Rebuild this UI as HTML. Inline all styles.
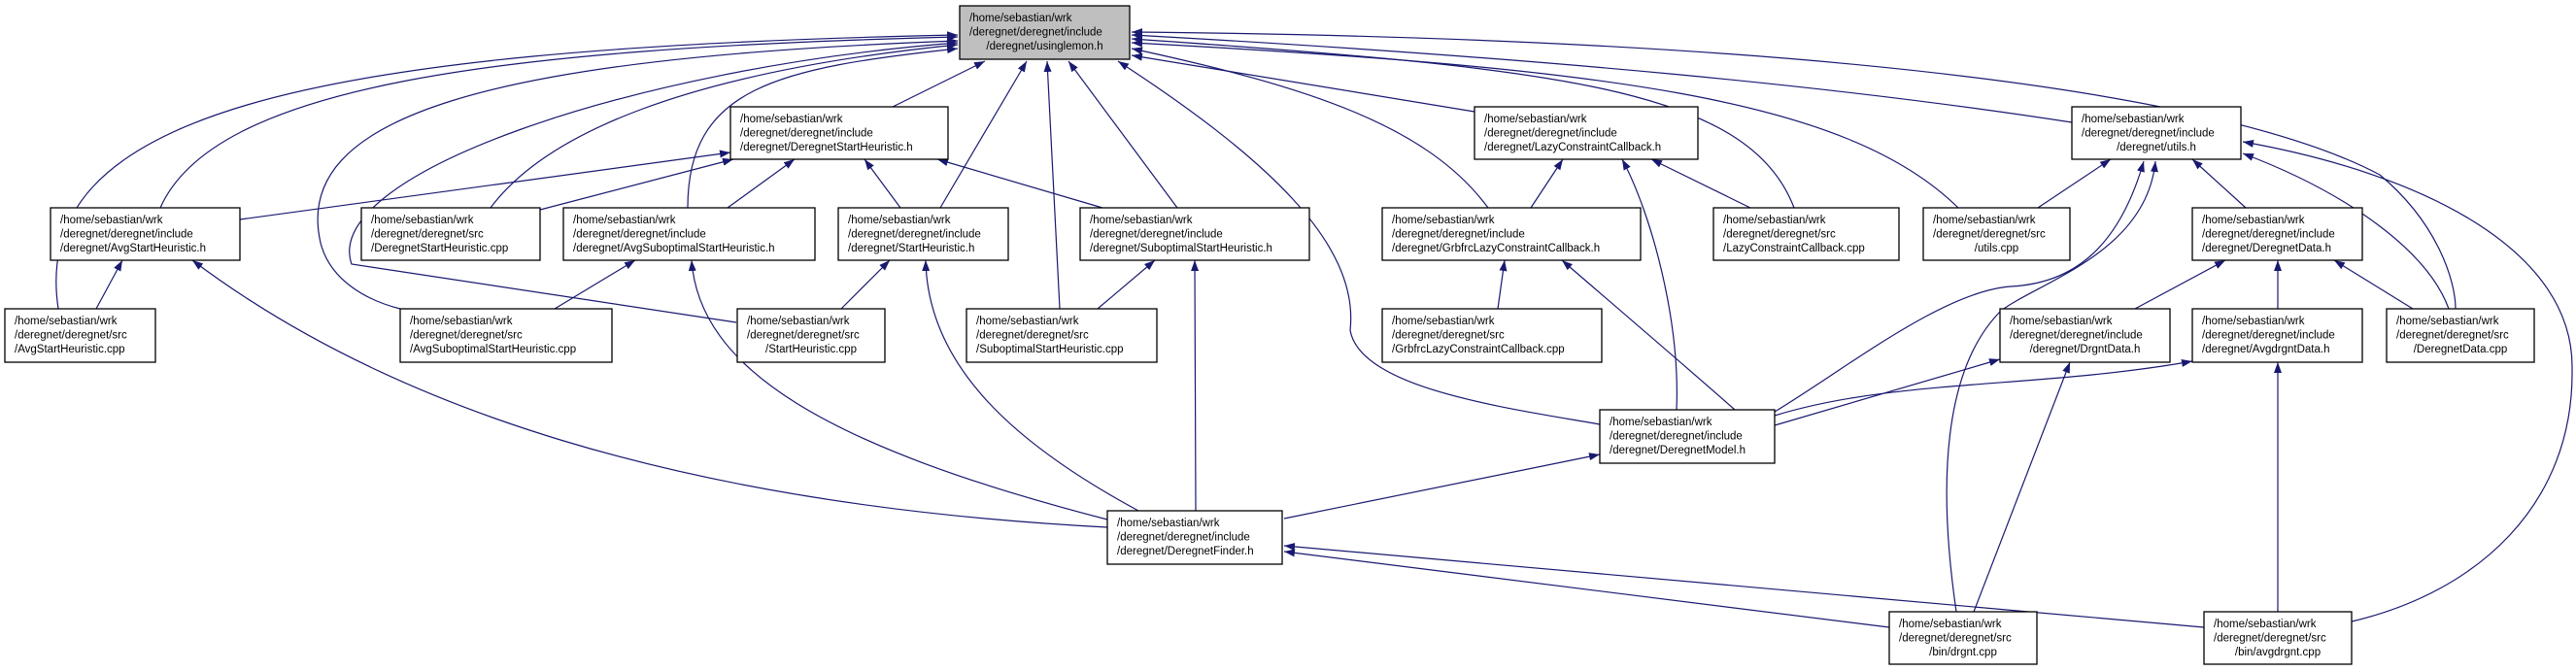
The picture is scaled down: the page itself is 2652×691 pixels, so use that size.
<!DOCTYPE html>
<html><head><meta charset="utf-8"><style>
html,body{margin:0;padding:0;background:#fff;}
svg{display:block;}
text{font-family:"Liberation Sans",sans-serif;font-size:11.5px;fill:#000;}
.e{fill:none;stroke:#191970;stroke-width:1.2;marker-start:url(#a);}
.b{fill:#fff;stroke:#000;stroke-width:1.3;}
</style></head><body>
<svg width="2652" height="691" viewBox="0 0 2652 691" xmlns="http://www.w3.org/2000/svg">
<defs><marker id="a" viewBox="0 0 11 8" refX="11" refY="4" markerWidth="11" markerHeight="8" markerUnits="userSpaceOnUse" orient="auto-start-reverse"><path d="M0,0 L11,4 L0,8 Z" fill="#191970"/></marker></defs>

<!-- root edges -->
<path class="e" d="M1014,63 L919,110"/>
<path class="e" d="M986,38 C500,50 220,90 165,214"/>
<path class="e" d="M986,36 C300,50 30,120 60,318"/>
<path class="e" d="M986,46 C700,75 560,140 505,214"/>
<path class="e" d="M986,50 C800,70 708,90 708,214"/>
<path class="e" d="M986,42 C500,60 300,120 330,250 C340,290 380,310 412,318"/>
<path class="e" d="M986,44 C650,70 330,180 362,272 L758,332"/>
<path class="e" d="M1057,63 L968,214"/>
<path class="e" d="M1078,63 L1091,318"/>
<path class="e" d="M1100,63 L1212,214"/>
<path class="e" d="M1151,63 C1300,160 1400,250 1390,340 C1400,400 1550,420 1647,437"/>
<path class="e" d="M1165,50 C1350,90 1470,130 1532,214"/>
<path class="e" d="M1165,57 L1518,115"/>
<path class="e" d="M1165,40 C1600,70 1800,90 1847,214"/>
<path class="e" d="M1165,44 C1650,70 1900,100 2016,214"/>
<path class="e" d="M1165,36 C1600,60 1900,90 2133,126"/>
<path class="e" d="M1165,33 C1900,40 2300,100 2450,180 C2510,230 2528,290 2528,318"/>
<!-- DSH.h -->
<path class="e" d="M752,157 L247,226"/>
<path class="e" d="M755,164 L556,216"/>
<path class="e" d="M818,164 L749,214"/>
<path class="e" d="M890,164 L927,214"/>
<path class="e" d="M965,164 L1135,214"/>
<!-- mid -->
<path class="e" d="M126,268 L99,318"/>
<path class="e" d="M198,268 C400,420 700,520 1140,543"/>
<path class="e" d="M654,268 L571,318"/>
<path class="e" d="M712,268 C720,380 850,460 1140,535"/>
<path class="e" d="M916,268 L866,318"/>
<path class="e" d="M953,268 C955,380 1050,460 1172,526"/>
<path class="e" d="M1189,268 L1130,318"/>
<path class="e" d="M1230,268 L1231,526"/>
<path class="e" d="M1609,164 L1576,214"/>
<path class="e" d="M1700,164 L1802,214"/>
<path class="e" d="M1670,164 C1700,220 1730,330 1726,422"/>
<path class="e" d="M1549,268 L1542,318"/>
<path class="e" d="M1608,268 C1680,330 1750,390 1786,422"/>
<!-- utils -->
<path class="e" d="M2173,164 L2098,214"/>
<path class="e" d="M2257,164 L2312,214"/>
<path class="e" d="M2207,166 C2180,260 2130,292 2070,295 C2000,300 1900,380 1827,424"/>
<path class="e" d="M2219,166 C2210,260 2100,290 2060,320 C2000,380 1995,500 2014,630"/>
<path class="e" d="M2309,158 C2420,200 2500,260 2521,318"/>
<path class="e" d="M2309,146 C2500,180 2650,260 2648,380 C2650,520 2550,610 2421,640"/>
<path class="e" d="M2291,268 L2198,318"/>
<path class="e" d="M2345,268 L2345,318"/>
<path class="e" d="M2403,268 L2484,318"/>
<path class="e" d="M2059,370 L1827,438"/>
<path class="e" d="M2131,373 L2032,630"/>
<path class="e" d="M2257,372 C2100,400 1950,390 1827,428"/>
<path class="e" d="M2345,373 L2345,630"/>
<path class="e" d="M1647,468 L1322,534"/>
<path class="e" d="M1322,562 L2269,646"/>
<path class="e" d="M1322,568 L1945,646"/>

<!-- nodes -->
<g>
<rect x="988" y="6" width="175" height="55" fill="#bfbfbf" stroke="#000" stroke-width="1.3"/>
<text x="998" y="22">/home/sebastian/wrk</text><text x="998" y="36.5">/deregnet/deregnet/include</text><text x="1075.5" y="51" text-anchor="middle">/deregnet/usinglemon.h</text>

<rect class="b" x="752" y="110" width="224" height="54"/>
<text x="762" y="126">/home/sebastian/wrk</text><text x="762" y="140.5">/deregnet/deregnet/include</text><text x="762" y="155">/deregnet/DeregnetStartHeuristic.h</text>

<rect class="b" x="1518" y="110" width="230" height="54"/>
<text x="1528" y="126">/home/sebastian/wrk</text><text x="1528" y="140.5">/deregnet/deregnet/include</text><text x="1528" y="155">/deregnet/LazyConstraintCallback.h</text>

<rect class="b" x="2133" y="110" width="174" height="54"/>
<text x="2143" y="126">/home/sebastian/wrk</text><text x="2143" y="140.5">/deregnet/deregnet/include</text><text x="2220" y="155" text-anchor="middle">/deregnet/utils.h</text>

<rect class="b" x="52" y="214" width="195" height="54"/>
<text x="62" y="230">/home/sebastian/wrk</text><text x="62" y="244.5">/deregnet/deregnet/include</text><text x="62" y="259">/deregnet/AvgStartHeuristic.h</text>

<rect class="b" x="372" y="214" width="184" height="54"/>
<text x="382" y="230">/home/sebastian/wrk</text><text x="382" y="244.5">/deregnet/deregnet/src</text><text x="382" y="259">/DeregnetStartHeuristic.cpp</text>

<rect class="b" x="580" y="214" width="259" height="54"/>
<text x="590" y="230">/home/sebastian/wrk</text><text x="590" y="244.5">/deregnet/deregnet/include</text><text x="590" y="259">/deregnet/AvgSuboptimalStartHeuristic.h</text>

<rect class="b" x="863" y="214" width="175" height="54"/>
<text x="873" y="230">/home/sebastian/wrk</text><text x="873" y="244.5">/deregnet/deregnet/include</text><text x="873" y="259">/deregnet/StartHeuristic.h</text>

<rect class="b" x="1112" y="214" width="236" height="54"/>
<text x="1122" y="230">/home/sebastian/wrk</text><text x="1122" y="244.5">/deregnet/deregnet/include</text><text x="1122" y="259">/deregnet/SuboptimalStartHeuristic.h</text>

<rect class="b" x="1423" y="214" width="266" height="54"/>
<text x="1433" y="230">/home/sebastian/wrk</text><text x="1433" y="244.5">/deregnet/deregnet/include</text><text x="1433" y="259">/deregnet/GrbfrcLazyConstraintCallback.h</text>

<rect class="b" x="1764" y="214" width="191" height="54"/>
<text x="1774" y="230">/home/sebastian/wrk</text><text x="1774" y="244.5">/deregnet/deregnet/src</text><text x="1774" y="259">/LazyConstraintCallback.cpp</text>

<rect class="b" x="1980" y="214" width="151" height="54"/>
<text x="1990" y="230">/home/sebastian/wrk</text><text x="1990" y="244.5">/deregnet/deregnet/src</text><text x="2055.5" y="259" text-anchor="middle">/utils.cpp</text>

<rect class="b" x="2257" y="214" width="175" height="54"/>
<text x="2267" y="230">/home/sebastian/wrk</text><text x="2267" y="244.5">/deregnet/deregnet/include</text><text x="2267" y="259">/deregnet/DeregnetData.h</text>

<rect class="b" x="5" y="318" width="155" height="55"/>
<text x="15" y="334">/home/sebastian/wrk</text><text x="15" y="348.5">/deregnet/deregnet/src</text><text x="15" y="363">/AvgStartHeuristic.cpp</text>

<rect class="b" x="412" y="318" width="218" height="55"/>
<text x="422" y="334">/home/sebastian/wrk</text><text x="422" y="348.5">/deregnet/deregnet/src</text><text x="422" y="363">/AvgSuboptimalStartHeuristic.cpp</text>

<rect class="b" x="759" y="318" width="152" height="55"/>
<text x="769" y="334">/home/sebastian/wrk</text><text x="769" y="348.5">/deregnet/deregnet/src</text><text x="835" y="363" text-anchor="middle">/StartHeuristic.cpp</text>

<rect class="b" x="995" y="318" width="196" height="55"/>
<text x="1005" y="334">/home/sebastian/wrk</text><text x="1005" y="348.5">/deregnet/deregnet/src</text><text x="1005" y="363">/SuboptimalStartHeuristic.cpp</text>

<rect class="b" x="1423" y="318" width="226" height="55"/>
<text x="1433" y="334">/home/sebastian/wrk</text><text x="1433" y="348.5">/deregnet/deregnet/src</text><text x="1433" y="363">/GrbfrcLazyConstraintCallback.cpp</text>

<rect class="b" x="2059" y="318" width="175" height="55"/>
<text x="2069" y="334">/home/sebastian/wrk</text><text x="2069" y="348.5">/deregnet/deregnet/include</text><text x="2146.5" y="363" text-anchor="middle">/deregnet/DrgntData.h</text>

<rect class="b" x="2257" y="318" width="175" height="55"/>
<text x="2267" y="334">/home/sebastian/wrk</text><text x="2267" y="348.5">/deregnet/deregnet/include</text><text x="2267" y="363">/deregnet/AvgdrgntData.h</text>

<rect class="b" x="2457" y="318" width="152" height="55"/>
<text x="2467" y="334">/home/sebastian/wrk</text><text x="2467" y="348.5">/deregnet/deregnet/src</text><text x="2533" y="363" text-anchor="middle">/DeregnetData.cpp</text>

<rect class="b" x="1647" y="422" width="180" height="55"/>
<text x="1657" y="438">/home/sebastian/wrk</text><text x="1657" y="452.5">/deregnet/deregnet/include</text><text x="1657" y="467">/deregnet/DeregnetModel.h</text>

<rect class="b" x="1140" y="526" width="180" height="55"/>
<text x="1150" y="542">/home/sebastian/wrk</text><text x="1150" y="556.5">/deregnet/deregnet/include</text><text x="1150" y="571">/deregnet/DeregnetFinder.h</text>

<rect class="b" x="1945" y="630" width="152" height="54"/>
<text x="1955" y="646">/home/sebastian/wrk</text><text x="1955" y="660.5">/deregnet/deregnet/src</text><text x="2021" y="675" text-anchor="middle">/bin/drgnt.cpp</text>

<rect class="b" x="2269" y="630" width="152" height="54"/>
<text x="2279" y="646">/home/sebastian/wrk</text><text x="2279" y="660.5">/deregnet/deregnet/src</text><text x="2345" y="675" text-anchor="middle">/bin/avgdrgnt.cpp</text>
</g>
</svg>
</body></html>
